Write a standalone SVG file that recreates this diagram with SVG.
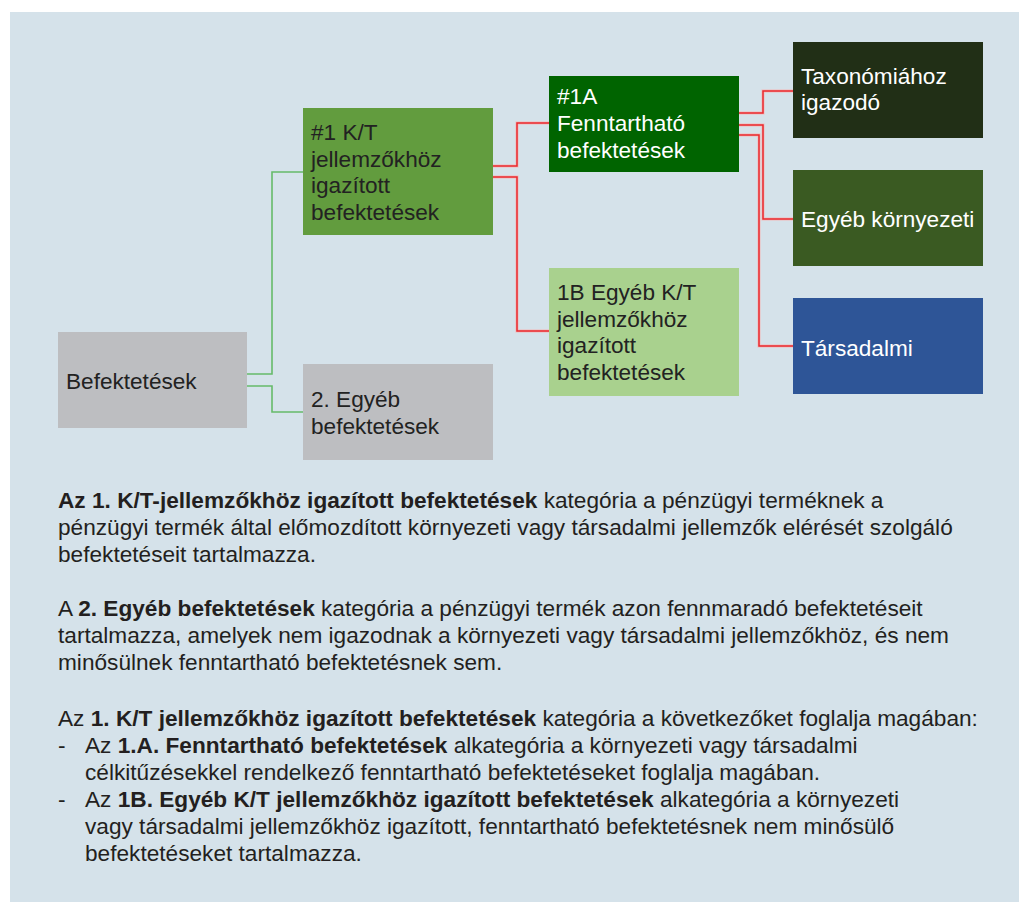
<svg xmlns="http://www.w3.org/2000/svg" width="1019" height="902" viewBox="0 0 1019 902">
<style>
.t{font-family:"Liberation Sans",Arial,sans-serif;font-size:22.6px;fill:#222222}
.w{fill:#ffffff}
.p{font-family:"Liberation Sans",Arial,sans-serif;font-size:22.65px;fill:#231f20}
.b{font-weight:bold}
.g{fill:none;stroke:#66bb6a;stroke-width:1.6}
.r{fill:none;stroke:#e8292e;stroke-width:1.5}
.rh{fill:none;stroke:#f4b8b8;stroke-width:3}
</style>
<rect x="10" y="12" width="1009" height="890" fill="#d5e2ea"/>
<g id="connectors">
<polyline class="g" points="247,374 272,374 272,172 303,172"/>
<polyline class="g" points="247,386 272,386 272,412 303,412"/>
<polyline class="rh" points="493,166 517,166 517,123 549,123"/>
<polyline class="rh" points="493,177 517,177 517,331 549,331"/>
<polyline class="rh" points="739,113 763,113 763,91 793,91"/>
<polyline class="rh" points="739,125 763,125 763,219 793,219"/>
<polyline class="rh" points="739,135 759,135 759,346 793,346"/>
<polyline class="r" points="493,166 517,166 517,123 549,123"/>
<polyline class="r" points="493,177 517,177 517,331 549,331"/>
<polyline class="r" points="739,113 763,113 763,91 793,91"/>
<polyline class="r" points="739,125 763,125 763,219 793,219"/>
<polyline class="r" points="739,135 759,135 759,346 793,346"/>
</g>
<g id="befektetesek">
<rect x="58" y="332" width="189" height="96" fill="#bdbec1"/>
<text class="t" x="66" y="389">Befektetések</text>
</g>
<g id="n1">
<rect x="303" y="108" width="190" height="127" fill="#629c3e"/>
<text class="t" x="311" y="140">#1 K/T</text>
<text class="t" x="311" y="167">jellemzőkhöz</text>
<text class="t" x="311" y="193">igazított</text>
<text class="t" x="311" y="220">befektetések</text>
</g>
<g id="n2">
<rect x="303" y="364" width="190" height="96" fill="#bdbec1"/>
<text class="t" x="311" y="407">2. Egyéb</text>
<text class="t" x="311" y="434">befektetések</text>
</g>
<g id="n1a">
<rect x="549" y="76" width="190" height="96" fill="#006400"/>
<text class="t w" x="557" y="104">#1A</text>
<text class="t w" x="557" y="131">Fenntartható</text>
<text class="t w" x="557" y="158">befektetések</text>
</g>
<g id="n1b">
<rect x="549" y="268" width="190" height="128" fill="#a9d18e"/>
<text class="t" x="557" y="300">1B Egyéb K/T</text>
<text class="t" x="557" y="327">jellemzőkhöz</text>
<text class="t" x="557" y="353">igazított</text>
<text class="t" x="557" y="380">befektetések</text>
</g>
<g id="taxonomia">
<rect x="793" y="42" width="190" height="96" fill="#212f16"/>
<text class="t w" x="801" y="84">Taxonómiához</text>
<text class="t w" x="801" y="110">igazodó</text>
</g>
<g id="egyeb-kornyezeti">
<rect x="793" y="170" width="190" height="96" fill="#3a5a22"/>
<text class="t w" x="801" y="227">Egyéb környezeti</text>
</g>
<g id="tarsadalmi">
<rect x="793" y="298" width="190" height="96" fill="#2e5597"/>
<text class="t w" x="801" y="356">Társadalmi</text>
</g>
<g id="text">
<text class="p" x="58" y="508"><tspan class="b">Az 1. K/T-jellemzőkhöz igazított befektetések</tspan> kategória a pénzügyi terméknek a</text>
<text class="p" x="58" y="535">pénzügyi termék által előmozdított környezeti vagy társadalmi jellemzők elérését szolgáló</text>
<text class="p" x="58" y="562">befektetéseit tartalmazza.</text>
<text class="p" x="58" y="616">A <tspan class="b">2. Egyéb befektetések</tspan> kategória a pénzügyi termék azon fennmaradó befektetéseit</text>
<text class="p" x="58" y="643">tartalmazza, amelyek nem igazodnak a környezeti vagy társadalmi jellemzőkhöz, és nem</text>
<text class="p" x="58" y="670">minősülnek fenntartható befektetésnek sem.</text>
<text class="p" x="58" y="726">Az <tspan class="b">1. K/T jellemzőkhöz igazított befektetések</tspan> kategória a következőket foglalja magában:</text>
<text class="p" x="58" y="753">-</text>
<text class="p" x="85" y="753">Az <tspan class="b">1.A. Fenntartható befektetések</tspan> alkategória a környezeti vagy társadalmi</text>
<text class="p" x="85" y="780">célkitűzésekkel rendelkező fenntartható befektetéseket foglalja magában.</text>
<text class="p" x="58" y="807">-</text>
<text class="p" x="85" y="807">Az <tspan class="b">1B. Egyéb K/T jellemzőkhöz igazított befektetések</tspan> alkategória a környezeti</text>
<text class="p" x="85" y="834">vagy társadalmi jellemzőkhöz igazított, fenntartható befektetésnek nem minősülő</text>
<text class="p" x="85" y="861">befektetéseket tartalmazza.</text>
</g>
</svg>
